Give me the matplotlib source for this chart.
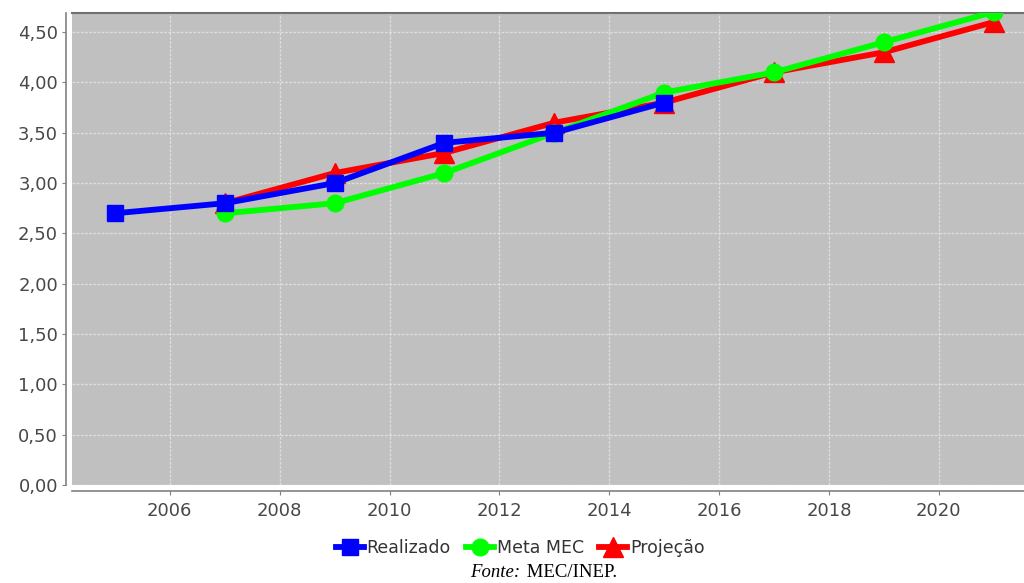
import matplotlib
matplotlib.use("Agg")
import matplotlib.pyplot as plt

# IDEB series (odd years)
anos_realizado = [2005, 2007, 2009, 2011, 2013, 2015]
realizado = [2.7, 2.8, 3.0, 3.4, 3.5, 3.8]

anos_meta = [2007, 2009, 2011, 2013, 2015, 2017, 2019, 2021]
meta_mec = [2.7, 2.8, 3.1, 3.5, 3.9, 4.1, 4.4, 4.7]

anos_proj = [2007, 2009, 2011, 2013, 2015, 2017, 2019, 2021]
projecao = [2.8, 3.1, 3.3, 3.6, 3.8, 4.1, 4.3, 4.6]

y_ticks = [0.0, 0.5, 1.0, 1.5, 2.0, 2.5, 3.0, 3.5, 4.0, 4.5]
x_ticks = [2006, 2008, 2010, 2012, 2014, 2016, 2018, 2020]

fig = plt.figure(figsize=(10.24, 5.83), dpi=100)
ax = fig.add_axes([0.0703, 0.168, 0.9297, 0.8097])
ax.set_facecolor("#c0c0c0")

lw = 4.2
ax.plot(anos_proj, projecao, color="#ff0000", lw=lw, marker="^", ms=14,
        label="Projeção", zorder=3)
ax.plot(anos_meta, meta_mec, color="#00ff00", lw=lw, marker="o", ms=12,
        label="Meta MEC", zorder=4)
ax.plot(anos_realizado, realizado, color="#0000ff", lw=lw, marker="s", ms=12,
        label="Realizado", zorder=5)

ax.set_xlim(2004.22, 2021.55)
ax.set_ylim(0, 4.69)
ax.set_xticks(x_ticks)
ax.set_yticks(y_ticks)
ax.set_yticklabels([f"{v:.2f}".replace(".", ",") for v in y_ticks])

ax.grid(True, color="#e8e8e8", lw=1.0, ls=(0, (2, 1)), alpha=0.75)
ax.set_axisbelow(True)

ax.spines["right"].set_visible(False)
ax.spines["top"].set_color("#707070")
ax.spines["top"].set_linewidth(1.5)
ax.spines["left"].set_position(("outward", 4))
ax.spines["bottom"].set_position(("outward", 4))
for s in ("left", "bottom"):
    ax.spines[s].set_color("#808080")
    ax.spines[s].set_linewidth(1.2)
ax.tick_params(axis="both", length=3, color="#808080", labelcolor="#484848",
               labelsize=13)
ax.tick_params(axis="x", pad=5)
ax.tick_params(axis="y", pad=3)

h, l = ax.get_legend_handles_labels()
order = [2, 1, 0]
fig.legend([h[i] for i in order], [l[i] for i in order], loc="center",
           bbox_to_anchor=(0.508, 0.06), ncol=3, frameon=False, fontsize=12.5,
           handlelength=1.6, handletextpad=0.15, columnspacing=0.9,
           labelcolor="#333333")

fig.text(0.508, 0.018, "Fonte:", family="Liberation Serif", style="italic",
         fontsize=13.5, ha="right", va="center")
fig.text(0.51, 0.018, " MEC/INEP.", family="Liberation Serif",
         fontsize=13.5, ha="left", va="center")

fig.savefig("out.png", dpi=100)
